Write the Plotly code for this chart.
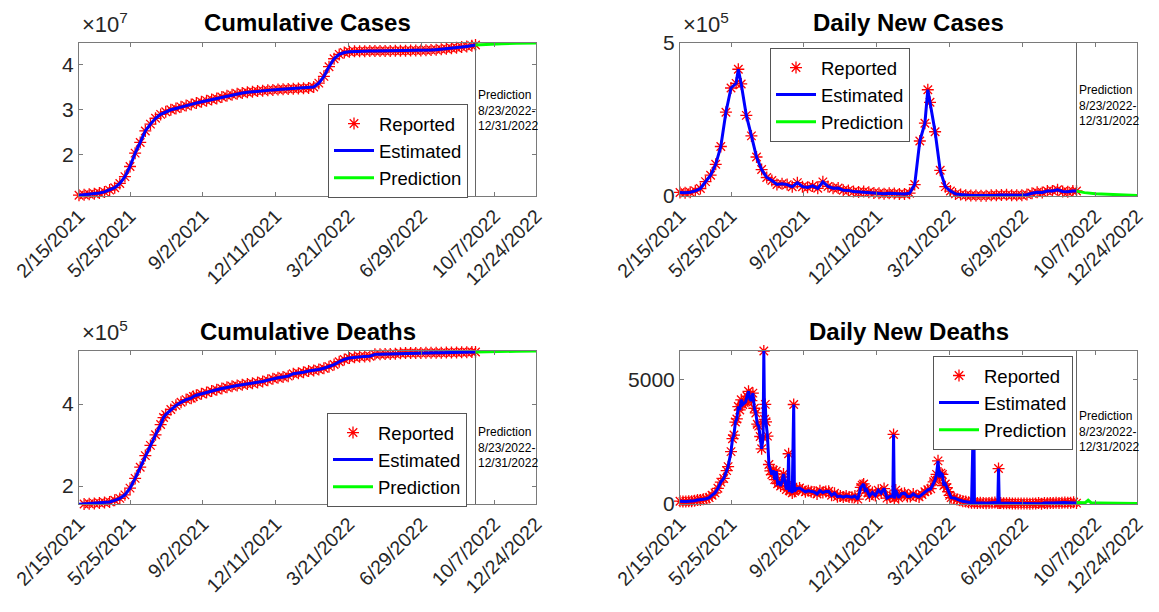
import plotly.graph_objects as go

# ---------------- data ----------------
tick_days = [0, 70, 170, 270, 370, 470, 570, 627]
tick_labels = ["2/15/2021", "5/25/2021", "9/2/2021", "12/11/2021", "3/21/2022",
               "6/29/2022", "10/7/2022", "12/24/2022"]
x_end = 627
pred_start = 544

# cumulative cases (millions)
cum_case_days = list(range(0, 540, 7)) + [544]
cum_case_mil = [10.92, 11.00, 11.12, 11.23, 11.39, 11.65, 12.05, 12.59, 13.53, 15.06,
                17.31, 20.28, 22.66, 25.22, 26.75, 28.05, 28.91, 29.51, 29.94, 30.23,
                30.59, 30.87, 31.14, 31.44, 31.70, 31.97, 32.22, 32.47, 32.77, 33.06,
                33.26, 33.50, 33.69, 33.83, 33.97, 34.10, 34.20, 34.29, 34.37, 34.44,
                34.51, 34.57, 34.63, 34.69, 34.75, 34.80, 35.02, 35.87, 37.38, 39.54,
                41.30, 42.27, 42.68, 42.88, 42.95, 42.99, 43.00, 43.01, 43.02, 43.03,
                43.04, 43.05, 43.06, 43.08, 43.10, 43.12, 43.14, 43.16, 43.19, 43.24,
                43.33, 43.42, 43.54, 43.65, 43.77, 43.90, 44.05, 44.20, 44.35]
pred_cum_case_days = [544, 560, 580, 600, 627]
pred_cum_case_mil = [44.35, 44.52, 44.65, 44.74, 44.80]

# daily new cases (thousands)
daily_case_days = ([0, 7, 14, 21, 28, 35, 42, 49, 56, 63, 70, 77, 80]
                   + list(range(84, 337, 7)) + [340] + list(range(343, 540, 7)) + [544])
daily_case_k = [11.6, 10.6, 12.3, 16.8, 24.5, 46.9, 68.0, 103.6, 161.7, 273.8, 352.9, 368.1,
                414.2,
                366.2, 263.5, 196.4, 127.5, 86.5, 60.5, 50.8, 37.6, 39.8, 37.2,
                30.1, 43.7, 30.5, 28.2, 32.9, 25.1, 46.2, 31.2, 25.4, 26.1,
                18.8, 18.3, 14.3, 13.1, 14.3, 12.5, 10.1, 8.9, 7.6, 8.9,
                8.3, 6.9, 6.6, 9.2, 37.4, 179.7, 238.0,
                347.3,
                306.1, 209.9, 83.9, 30.6, 16.1, 6.9, 4.6, 2.5, 1.6, 1.3,
                1.1, 1.2, 2.2, 2.5, 3.2, 3.8, 2.2, 2.7, 2.7, 4.5,
                8.8, 12.2, 11.7, 16.1, 16.7, 20.5, 14.8, 13.7, 16.0,
                16.3]
pred_daily_case_days = [544, 555, 570, 590, 610, 627]
pred_daily_case_k = [16.0, 11.0, 7.5, 5.0, 3.0, 1.5]

# cumulative deaths (thousands)
cum_death_days = [0, 7, 14, 21, 28, 35, 42, 49, 56, 63, 70, 77, 84, 91, 98, 105, 112,
                  116, 119, 126, 133, 140, 147, 154, 157,
                  161, 168, 175, 182, 189, 196, 203, 210, 217, 224, 231, 238, 245, 252,
                  259, 266, 273, 280, 287,
                  294, 301, 308, 315, 322, 329, 336, 343, 350, 357, 364, 371, 378, 385,
                  392, 399, 406, 413, 420, 427, 434, 441, 448, 455, 462, 469, 476, 483,
                  490, 497, 504, 511, 518, 525, 532, 539, 544]
cum_death_k = [155.9, 156.6, 157.2, 158.0, 158.9, 160.0, 161.6, 165.5, 170.2, 178.8,
               195.1, 218.9, 246.1, 274.4, 299.3, 325.0, 350.0,
               367.1, 374.3, 386.7, 396.8, 404.2, 410.8, 414.1, 418.5,
               421.4, 425.2, 428.3, 431.6, 434.8, 437.8, 440.8, 443.2, 445.1, 447.2,
               448.9, 450.4, 452.7, 455.1, 458.2, 461.4, 463.9, 465.9, 467.9,
               473.8, 475.1, 477.4, 480.3, 482.0, 484.2, 487.2, 491.1, 496.2, 503.0,
               508.7, 512.1, 513.9, 515.4, 516.1, 516.6, 521.0, 521.3, 521.7, 522.0,
               522.2, 523.9, 524.2, 524.3, 524.4, 524.6, 524.7, 524.8, 525.0, 525.1,
               525.3, 525.5, 525.7, 526.0, 526.3, 526.6, 526.8]
pred_cum_death_days = [544, 560, 580, 600, 627]
pred_cum_death_k = [526.8, 527.6, 528.2, 528.6, 528.9]

# daily new deaths
daily_death_days = [0, 4, 8, 12, 16, 20, 24, 28, 32, 36, 40, 44, 48, 52, 56, 60, 64,
                    66, 70, 72, 74, 76, 78, 80, 82, 84, 86, 88, 90, 92, 94, 96, 98, 100,
                    102, 104, 106, 108, 110, 112, 114, 115, 116, 117, 118, 120, 122, 124,
                    126, 128, 130, 132, 134, 136, 138, 140, 142, 144, 146, 148, 149, 150,
                    152, 154, 156, 157, 158, 160, 164, 168, 172, 176, 180, 184, 188, 192,
                    196, 200, 204, 208, 212, 216, 220, 224, 228, 232, 236, 240, 244, 248,
                    250, 252, 254, 256, 258, 260, 264, 268, 272, 276, 280, 284, 288, 292,
                    293, 294, 296, 300, 304, 308, 312, 316, 320, 324, 328, 332, 336, 340,
                    344, 348, 350, 352, 354, 356, 358, 360, 362, 364, 366, 368, 370, 372,
                    376, 380, 384, 388, 392, 396, 400, 403, 404, 408, 412, 416, 420, 424,
                    428, 432, 436, 437, 438, 440, 444, 448, 452, 456, 460, 464, 468, 472,
                    476, 480, 484, 488, 492, 496, 500, 504, 508, 512, 516, 520, 524, 528,
                    532, 536, 540, 544]
daily_death = [112, 96, 101, 113, 114, 131, 158, 161, 188, 212, 257, 354, 446, 630, 879,
               1027, 1341, 1501, 2104, 2624, 2771, 3293, 3417, 3915, 3780, 4187, 4000,
               4077, 4106, 4329, 4529, 4209, 4157, 4454, 3847, 3660, 3207, 3128, 2713,
               2219, 2677, 6148, 3403, 4002, 3303, 2726, 1587, 1329, 1183, 1358, 979,
               1321, 817, 853, 723, 930, 1206, 895, 581, 724, 2020, 542, 555, 447, 3998,
               507, 541, 614, 640, 562, 491, 530, 497, 481, 400, 531, 460, 505, 509, 350,
               431, 295, 317, 277, 322, 282, 271, 318, 197, 666, 755, 805, 547, 585, 444,
               318, 459, 340, 555, 437, 621, 236, 302, 319, 2796, 220, 558, 251, 415, 434,
               300, 302, 406, 325, 285, 380, 491, 571, 614, 891, 959, 1192, 1733, 1072,
               1241, 1188, 740, 804, 657, 492, 347, 255, 242, 183, 149, 113, 97, 71, 50,
               4100, 52, 44, 54, 40, 31, 39, 54, 60, 36, 1424, 39, 43, 31, 33, 31, 19, 24,
               20, 25, 24, 25, 14, 21, 24, 38, 13, 42, 29, 38, 45, 53, 38, 47, 57, 53, 51,
               68, 36]
pred_daily_death_days = [544, 550, 556, 560, 564, 575, 590, 610, 627]
pred_daily_death = [60, 55, 50, 150, 50, 40, 32, 25, 20]

# ---------------- figure ----------------
W, H = 1159, 612
FONT = "Liberation Sans, Arial, Helvetica, sans-serif"
TXT = "#262626"
AX = "#7a7a7a"


def px(x):
    return x / W


def py(y):
    return 1 - y / H


panels = [
    dict(title="Cumulative Cases", xd=(79, 536), yd=(43, 196), exp="7",
         leg=(328, 104), pred_txt=(476, 110),
         rx=cum_case_days, ry=[v * 1e6 for v in cum_case_mil],
         prx=pred_cum_case_days, pry=[v * 1e6 for v in pred_cum_case_mil],
         yrange=[1.074e7, 4.481e7], tv=[2e7, 3e7, 4e7], tt=["2", "3", "4"]),
    dict(title="Daily New Cases", xd=(680, 1137), yd=(43, 196), exp="5",
         leg=(770, 48), pred_txt=(1077, 105),
         rx=daily_case_days, ry=[v * 1e3 for v in daily_case_k],
         prx=pred_daily_case_days, pry=[v * 1e3 for v in pred_daily_case_k],
         yrange=[0, 5e5], tv=[0, 5e5], tt=["0", "5"]),
    dict(title="Cumulative Deaths", xd=(79, 536), yd=(351, 504), exp="5",
         leg=(327, 413), pred_txt=(476, 447),
         rx=cum_death_days, ry=[v * 1e3 for v in cum_death_k],
         prx=pred_cum_death_days, pry=[v * 1e3 for v in pred_cum_death_k],
         yrange=[1.565e5, 5.292e5], tv=[2e5, 4e5], tt=["2", "4"]),
    dict(title="Daily New Deaths", xd=(680, 1137), yd=(351, 504), exp=None,
         leg=(933, 356), pred_txt=(1077, 431),
         rx=daily_death_days, ry=daily_death,
         prx=pred_daily_death_days, pry=pred_daily_death,
         yrange=[0, 6148], tv=[0, 5000], tt=["0", "5000"]),
]

fig = go.Figure()
annotations = []
shapes = []
layout_updates = {}

for i, p in enumerate(panels):
    k = "" if i == 0 else str(i + 1)
    xa, ya = "x" + k, "y" + k
    lg = "legend" + k
    fig.add_trace(go.Scatter(
        x=p["rx"], y=p["ry"], mode="markers", name="Reported",
        marker=dict(symbol="asterisk-open", size=10, color="#ff0000",
                    line=dict(width=1.3, color="#ff0000")),
        xaxis=xa, yaxis=ya, legend=lg, cliponaxis=False))
    fig.add_trace(go.Scatter(
        x=p["rx"], y=p["ry"], mode="lines", name="Estimated",
        line=dict(color="#0000ff", width=3),
        xaxis=xa, yaxis=ya, legend=lg, cliponaxis=False))
    fig.add_trace(go.Scatter(
        x=p["prx"], y=p["pry"], mode="lines", name="Prediction",
        line=dict(color="#00ff00", width=3),
        xaxis=xa, yaxis=ya, legend=lg, cliponaxis=False))

    layout_updates["xaxis" + k] = dict(
        domain=[px(p["xd"][0]), px(p["xd"][1])], anchor=ya, range=[0, x_end],
        tickmode="array", tickvals=tick_days, ticktext=tick_labels, tickangle=-45,
        ticks="inside", ticklen=4, tickcolor=AX, showline=True, linecolor=AX,
        linewidth=1, mirror="ticks", showgrid=False, zeroline=False,
        tickfont=dict(family=FONT, size=19.5, color=TXT), automargin=False)
    layout_updates["yaxis" + k] = dict(
        domain=[py(p["yd"][1]), py(p["yd"][0])], anchor=xa, range=p["yrange"],
        tickmode="array", tickvals=p["tv"], ticktext=p["tt"],
        ticks="inside", ticklen=4, tickcolor=AX, showline=True, linecolor=AX,
        linewidth=1, mirror="ticks", showgrid=False, zeroline=False,
        tickfont=dict(family=FONT, size=21, color=TXT), automargin=False)
    layout_updates[lg] = dict(
        x=px(p["leg"][0]), y=py(p["leg"][1]), xanchor="left", yanchor="top",
        xref="paper", yref="paper",
        bgcolor="white", bordercolor="#555555", borderwidth=1,
        font=dict(family=FONT, size=18.5, color="black"), itemwidth=40,
        tracegroupgap=0)

    annotations.append(dict(
        text="<b>" + p["title"] + "</b>", x=px((p["xd"][0] + p["xd"][1]) / 2),
        y=py(p["yd"][0] - 20), xref="paper", yref="paper", xanchor="center",
        yanchor="middle", showarrow=False,
        font=dict(family=FONT, size=24, color="black")))
    if p["exp"]:
        annotations.append(dict(
            text="\u00d710<sup>" + p["exp"] + "</sup>", x=px(p["xd"][0] + 1),
            y=py(p["yd"][0] - 4), xref="paper", yref="paper", xanchor="left",
            yanchor="bottom", showarrow=False,
            font=dict(family=FONT, size=22, color=TXT)))
    annotations.append(dict(
        text="Prediction<br>8/23/2022-<br>12/31/2022", x=px(p["pred_txt"][0]),
        y=py(p["pred_txt"][1]), xref="paper", yref="paper", xanchor="left",
        yanchor="middle", align="left", showarrow=False,
        font=dict(family=FONT, size=12, color="black")))
    shapes.append(dict(type="line", xref=xa, yref=ya + " domain",
                       x0=pred_start, x1=pred_start, y0=0, y1=1,
                       line=dict(color="#666666", width=1)))

fig.update_layout(
    width=W, height=H, margin=dict(l=0, r=0, t=0, b=0),
    paper_bgcolor="white", plot_bgcolor="white",
    annotations=annotations, shapes=shapes,
    font=dict(family=FONT),
    **layout_updates)

fig.write_html("out.html")
